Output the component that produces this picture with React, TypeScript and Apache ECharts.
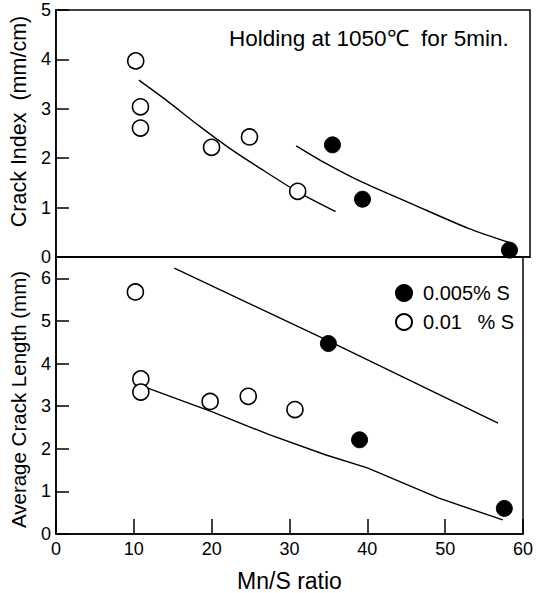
import React, { useEffect, useRef } from "react";
import * as echarts from "echarts";

// Top panel: Crack Index (mm/cm)
const topOpenPoints: [number, number][] = [
  [10.1, 3.97], [10.7, 3.04], [10.7, 2.61], [19.7, 2.22], [24.5, 2.43], [30.6, 1.33],
];
const topFilledPoints: [number, number][] = [
  [35.0, 2.27], [38.8, 1.17], [57.4, 0.14],
];
const topOpenCurve: [number, number][] = [
  [10.5, 3.58], [14.0, 3.17], [18.0, 2.67], [22.0, 2.2], [26.0, 1.78], [30.6, 1.32], [35.4, 0.92],
];
const topFilledCurve: [number, number][] = [
  [30.4, 2.25], [34.1, 1.9], [38.7, 1.52], [45.4, 1.05], [52.2, 0.58], [57.6, 0.28],
];

// Bottom panel: Average Crack Length (mm)
const botOpenPoints: [number, number][] = [
  [10.2, 5.68], [10.9, 3.64], [10.9, 3.33], [19.8, 3.11], [24.7, 3.23], [30.7, 2.92],
];
const botFilledPoints: [number, number][] = [
  [35.0, 4.47], [39.0, 2.21], [57.6, 0.6],
];
const botUpperLine: [number, number][] = [
  [15.2, 6.24], [35.0, 4.53], [56.8, 2.6],
];
const botLowerLine: [number, number][] = [
  [11.7, 3.43], [20.0, 2.87], [27.4, 2.33], [34.6, 1.86], [40.0, 1.55], [49.2, 0.84], [57.4, 0.33],
];

const legendFilled = "0.005% S";
const legendOpen = "0.01\u2002 % S";
const titleText = "Holding at 1050\u2103  for 5min.";
const xName = "Mn/S ratio";
const yTopName = "Crack Index  (mm/cm)";
const yBotName = "Average Crack Length (mm)";

const FONT = "'Liberation Sans', Arial, Helvetica, sans-serif";

export default function App() {
  const ref = useRef<HTMLDivElement>(null);
  useEffect(() => {
    if (!ref.current) return;
    const chart = echarts.init(ref.current, undefined, { renderer: "svg" });
    const axisLine = { show: true, lineStyle: { color: "#000", width: 1.5 } };
    const label = { color: "#000", fontSize: 18, fontFamily: FONT };
    const openStyle = { color: "#fff", borderColor: "#000", borderWidth: 1.6, opacity: 1 };
    const filledStyle = { color: "#000", borderColor: "#000", borderWidth: 1, opacity: 1 };
    const lineStyle = { color: "#000", width: 1.4 };
    chart.setOption({
      animation: false,
      backgroundColor: "#fff",
      textStyle: { fontFamily: FONT },
      title: {
        text: titleText,
        left: 229,
        top: 27,
        padding: 0,
        textStyle: { fontSize: 22.5, fontWeight: "normal", color: "#000", fontFamily: FONT },
      },
      legend: {
        orient: "vertical",
        left: 395,
        top: 283,
        padding: 0,
        itemWidth: 28,
        itemHeight: 16,
        itemGap: 9,
        textStyle: { fontSize: 20, color: "#000", fontFamily: FONT },
        data: [
          { name: legendFilled, icon: "circle" },
          { name: legendOpen, icon: "circle" },
        ],
      },
      grid: [
        { left: 52, right: 6, top: 10, height: 247, show: true, borderColor: "#000", borderWidth: 1.5, backgroundColor: "transparent" },
        { left: 52, right: 6, top: 257, height: 277, show: true, borderColor: "#000", borderWidth: 1.5, backgroundColor: "transparent" },
      ],
      xAxis: [
        {
          gridIndex: 0, type: "value", min: 0, max: 60, interval: 10,
          axisLine, axisTick: { show: false }, axisLabel: { show: false }, splitLine: { show: false },
        },
        {
          gridIndex: 1, type: "value", min: 0, max: 60, interval: 10,
          axisLine,
          axisTick: { show: true, inside: true, length: 15, lineStyle: { color: "#000", width: 1.5 } },
          axisLabel: { ...label, margin: 6 },
          splitLine: { show: false },
          name: xName, nameLocation: "middle", nameGap: 35,
          nameTextStyle: { fontSize: 23, color: "#000", fontFamily: FONT },
        },
      ],
      yAxis: [
        {
          gridIndex: 0, type: "value", min: 0, max: 5, interval: 1,
          axisLine,
          axisTick: { show: true, inside: true, length: 13, lineStyle: { color: "#000", width: 1.5 } },
          axisLabel: { ...label, margin: 5 },
          splitLine: { show: false },
          name: yTopName, nameLocation: "middle", nameGap: 25,
          nameTextStyle: { fontSize: 21.5, color: "#000", fontFamily: FONT, padding: [0, 0, 0, 24] },
        },
        {
          gridIndex: 1, type: "value", min: 0, max: 6.5, interval: 1,
          axisLine,
          axisTick: { show: true, inside: true, length: 13, lineStyle: { color: "#000", width: 1.5 } },
          axisLabel: {
            ...label, margin: 5, showMaxLabel: false,
            formatter: (v: number) => (Number.isInteger(v) ? String(v) : ""),
          },
          splitLine: { show: false },
          name: yBotName, nameLocation: "middle", nameGap: 27,
          nameTextStyle: { fontSize: 20.5, color: "#000", fontFamily: FONT, padding: [0, 8, 0, 0] },
        },
      ],
      series: [
        { type: "line", xAxisIndex: 0, yAxisIndex: 0, data: topOpenCurve, smooth: 0.25, showSymbol: false, lineStyle, silent: true, z: 1 },
        { type: "line", xAxisIndex: 0, yAxisIndex: 0, data: topFilledCurve, smooth: 0.25, showSymbol: false, lineStyle, silent: true, z: 1 },
        { type: "line", xAxisIndex: 1, yAxisIndex: 1, data: botUpperLine, smooth: false, showSymbol: false, lineStyle, silent: true, z: 1 },
        { type: "line", xAxisIndex: 1, yAxisIndex: 1, data: botLowerLine, smooth: false, showSymbol: false, lineStyle, silent: true, z: 1 },
        { name: legendOpen, type: "scatter", xAxisIndex: 0, yAxisIndex: 0, data: topOpenPoints, symbol: "circle", symbolSize: 16, itemStyle: openStyle, z: 3 },
        { name: legendFilled, type: "scatter", xAxisIndex: 0, yAxisIndex: 0, data: topFilledPoints, symbol: "circle", symbolSize: 16, itemStyle: filledStyle, z: 3 },
        { name: legendOpen, type: "scatter", xAxisIndex: 1, yAxisIndex: 1, data: botOpenPoints, symbol: "circle", symbolSize: 16, itemStyle: openStyle, z: 3 },
        { name: legendFilled, type: "scatter", xAxisIndex: 1, yAxisIndex: 1, data: botFilledPoints, symbol: "circle", symbolSize: 16, itemStyle: filledStyle, z: 3 },
      ],
    });
    return () => chart.dispose();
  }, []);
  return <div ref={ref} style={{ width: 536, height: 593, position: "fixed", left: 0, top: 0 }} />;
}
